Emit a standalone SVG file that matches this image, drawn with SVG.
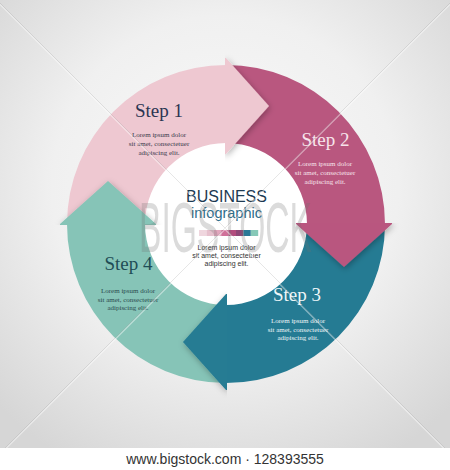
<svg xmlns="http://www.w3.org/2000/svg" width="450" height="470" viewBox="0 0 450 470">
  <defs>
    <radialGradient id="bg" cx="50%" cy="42%" r="70%">
      <stop offset="0" stop-color="#fafafa"/>
      <stop offset="0.55" stop-color="#f0f0f0"/>
      <stop offset="1" stop-color="#d6d6d6"/>
    </radialGradient>
    <filter id="sh" x="-30%" y="-30%" width="160%" height="160%">
      <feDropShadow dx="1" dy="2" stdDeviation="3" flood-color="#000" flood-opacity="0.3"/>
    </filter>
    <clipPath id="cp1"><rect x="225" y="0" width="225" height="450"/></clipPath>
    <clipPath id="cp2"><rect x="0" y="223" width="450" height="227"/></clipPath>
    <clipPath id="cp3"><rect x="0" y="0" width="227" height="450"/></clipPath>
    <clipPath id="cp4"><rect x="0" y="0" width="450" height="225"/></clipPath>
  </defs>
  <style>
    .pink{fill:#eec8d1}
    .mag{fill:#b9577f}
    .teal{fill:#257b93}
    .mint{fill:#86c4b7}
    .step{font-family:"Liberation Serif","Times New Roman",serif;font-size:19px;text-anchor:middle}
    .lor{font-family:"Liberation Serif","Times New Roman",serif;font-size:7px;text-anchor:middle}
    .sans{font-family:"Liberation Sans",Arial,sans-serif;text-anchor:middle}
    .wm{stroke:#ffffff;stroke-opacity:0.45;stroke-width:1.2;fill:none}
    .wm2{stroke:#9a9a9a;stroke-opacity:0.35;stroke-width:0.7;fill:none}
  </style>

  <rect x="0" y="0" width="450" height="448" fill="url(#bg)"/>
  <rect x="0" y="448" width="450" height="22" fill="#ffffff"/>

  <circle cx="226" cy="224" r="82" fill="#ffffff"/>

  <g id="connectors">
    <path class="pink" d="M67,224 A159,159 0 0 1 226,65 L226,143 A81,81 0 0 0 145,224 Z"/>
    <path class="mag" d="M226,65 A159,159 0 0 1 385,224 L307,224 A81,81 0 0 0 226,143 Z"/>
    <path class="teal" d="M385,224 A159,159 0 0 1 226,383 L226,305 A81,81 0 0 0 307,224 Z"/>
    <path class="mint" d="M226,383 A159,159 0 0 1 67,224 L145,224 A81,81 0 0 0 226,305 Z"/>
    <g clip-path="url(#cp1)"><path class="pink" filter="url(#sh)" d="M224,58 L226,58 L269,106 L226,154 L224,154 Z"/></g>
    <g clip-path="url(#cp2)"><path class="mag" filter="url(#sh)" d="M392,222 L392,224 L344,267 L296,224 L296,222 Z"/></g>
    <g clip-path="url(#cp3)"><path class="teal" filter="url(#sh)" d="M228,390 L226,390 L183,342 L226,294 L228,294 Z"/></g>
    <g clip-path="url(#cp4)"><path class="mint" filter="url(#sh)" d="M60,226 L60,224 L108,181 L156,224 L156,226 Z"/></g>
  </g>

  <g id="step1">
    <text class="step" x="159" y="117" fill="#2b3552">Step 1</text>
    <text class="lor" x="159" y="137" fill="#3a3a4c">Lorem ipsum dolor</text>
    <text class="lor" x="159" y="146" fill="#3a3a4c">sit amet, consectetuer</text>
    <text class="lor" x="159" y="154.5" fill="#3a3a4c">adipiscing elit.</text>
  </g>
  <g id="step2">
    <text class="step" x="325.5" y="146" fill="#f7e4eb">Step 2</text>
    <text class="lor" x="325" y="166" fill="#f7e4eb">Lorem ipsum dolor</text>
    <text class="lor" x="325" y="175" fill="#f7e4eb">sit amet, consectetuer</text>
    <text class="lor" x="325" y="183.5" fill="#f7e4eb">adipiscing elit.</text>
  </g>
  <g id="step3">
    <text class="step" x="297" y="301" fill="#eef6f8">Step 3</text>
    <text class="lor" x="298" y="323" fill="#eef6f8">Lorem ipsum dolor</text>
    <text class="lor" x="298" y="331.5" fill="#eef6f8">sit amet, consectetuer</text>
    <text class="lor" x="298" y="340" fill="#eef6f8">adipiscing elit.</text>
  </g>
  <g id="step4">
    <text class="step" x="128.5" y="270" fill="#1f4d56">Step 4</text>
    <text class="lor" x="128" y="293" fill="#2a4a4e">Lorem ipsum dolor</text>
    <text class="lor" x="128" y="301.5" fill="#2a4a4e">sit amet, consectetuer</text>
    <text class="lor" x="128" y="310" fill="#2a4a4e">adipiscing elit.</text>
  </g>

  <g id="center">
    <text class="sans" x="226.5" y="202" font-size="16" fill="#1d3a52">BUSINESS</text>
    <text class="sans" x="226.5" y="218" font-size="14.5" fill="#2f6d8a">infographic</text>
    <g id="colorbar">
      <rect x="199" y="230" width="7.4" height="6" fill="#efd6de"/>
      <rect x="206.4" y="230" width="7.4" height="6" fill="#e6c0cd"/>
      <rect x="213.8" y="230" width="7.4" height="6" fill="#e2a6bd"/>
      <rect x="221.2" y="230" width="7.4" height="6" fill="#d07099"/>
      <rect x="228.6" y="230" width="7.4" height="6" fill="#b24d7e"/>
      <rect x="236" y="230" width="7.4" height="6" fill="#8e4877"/>
      <rect x="243.4" y="230" width="7.4" height="6" fill="#2a7896"/>
      <rect x="250.8" y="230" width="7.4" height="6" fill="#86c8b7"/>
    </g>
    <text class="sans" x="226.5" y="250" font-size="7" fill="#333333">Lorem ipsum dolor</text>
    <text class="sans" x="226.5" y="258" font-size="7" fill="#333333">sit amet, consectetuer</text>
    <text class="sans" x="226.5" y="266" font-size="7" fill="#333333">adipiscing elit.</text>
  </g>

  <g id="watermark">
    <text transform="translate(139,252) scale(0.48,1)" x="0" y="0" font-family="'Liberation Sans',Arial,sans-serif" font-size="70" fill="#707070" fill-opacity="0.25">BIGSTOCK</text>
    <path class="wm2" d="M0,3 L445,448 M450,3 L5,448"/>
    <path class="wm" d="M0,4.5 L444,448.5 M450,4.5 L6,448.5"/>
  </g>

  <text class="sans" x="225" y="464" font-size="14" fill="#333333">www.bigstock.com · 128393555</text>
</svg>
